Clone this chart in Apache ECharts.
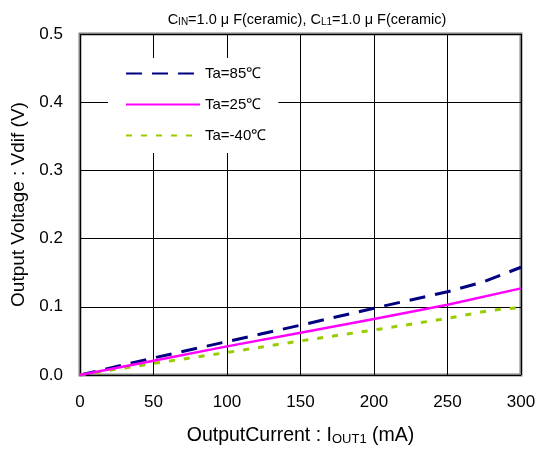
<!DOCTYPE html>
<html>
<head>
<meta charset="utf-8">
<script src="https://cdn.jsdelivr.net/npm/echarts@6/dist/echarts.min.js"></script>
<style>html,body{margin:0;padding:0;background:#fff}#c{width:539px;height:450px}</style>
</head>
<body>
<div id="c"></div>
<script>
var xTicks = [0, 50, 100, 150, 200, 250, 300];
var yTicks = [0.0, 0.1, 0.2, 0.3, 0.4, 0.5];
var seriesNames = ['Ta=85℃', 'Ta=25℃', 'Ta=-40℃'];
var ta85 = [[0,0],[50,0.025],[100,0.049],[150,0.073],[200,0.098],[250,0.122],[275,0.137],[300,0.158]];
var ta25 = [[0,0],[50,0.021],[100,0.042],[150,0.062],[200,0.082],[250,0.103],[300,0.127]];
var taM40 = [[0,0],[50,0.017],[100,0.033],[150,0.050],[200,0.066],[250,0.083],[280,0.095],[300,0.099]];

var FONT = '"Liberation Sans", Arial, sans-serif';
var chart = echarts.init(document.getElementById('c'), null, {renderer: 'canvas'});
chart.setOption({
  animation: false,
  backgroundColor: '#fff',
  textStyle: {fontFamily: FONT, color: '#000'},
  title: {
    text: '{n|C}{s|IN}{n|=1.0 μ F(ceramic), C}{s|L1}{n|=1.0 μ F(ceramic)}',
    left: 302, top: 4, textAlign: 'center',
    textStyle: {
      fontWeight: 'normal',
      rich: {
        n: {fontSize: 14.5, fontWeight: 'normal', fontFamily: FONT, color: '#000', verticalAlign: 'bottom', lineHeight: 18},
        s: {fontSize: 10, fontWeight: 'normal', fontFamily: FONT, color: '#000', verticalAlign: 'bottom', lineHeight: 15}
      }
    }
  },
  legend: {
    orient: 'vertical',
    left: 108, top: 58,
    padding: [8, 12, 10, 17],
    backgroundColor: '#fff',
    itemWidth: 74, itemHeight: 14, itemGap: 16,
    itemStyle: {opacity: 0},
    textStyle: {fontSize: 15, fontFamily: FONT, color: '#000', padding: [0,0,0,0]},
    data: seriesNames
  },
  grid: {left: 80, right: 18, top: 34, bottom: 75, show: true, borderColor: '#7f7f7f', borderWidth: 3,
         containLabel: false, outerBoundsMode: 'none'},
  xAxis: {
    type: 'value', min: 0, max: 300, interval: 50,
    name: '{n|OutputCurrent : I}{s|OUT1}{n| (mA)}',
    nameLocation: 'middle', nameGap: 49,
    nameTextStyle: {
      rich: {
        n: {fontSize: 19.5, fontFamily: FONT, color: '#000', verticalAlign: 'bottom', lineHeight: 22},
        s: {fontSize: 13, fontFamily: FONT, color: '#000', verticalAlign: 'bottom', lineHeight: 17}
      }
    },
    axisLine: {show: false}, axisTick: {show: false},
    axisLabel: {fontSize: 17, color: '#000', margin: 19, fontFamily: FONT},
    splitLine: {show: true, lineStyle: {color: '#000', width: 1}}
  },
  yAxis: {
    type: 'value', min: 0, max: 0.5, interval: 0.1,
    name: 'Output Voltage : Vdif (V)',
    nameLocation: 'middle', nameGap: 52,
    nameTextStyle: {fontSize: 19, fontFamily: FONT, color: '#000'},
    axisLine: {show: false}, axisTick: {show: false},
    axisLabel: {fontSize: 17, color: '#000', margin: 17, fontFamily: FONT,
      formatter: function (v) { return v.toFixed(1); }},
    splitLine: {show: true, lineStyle: {color: '#000', width: 1}}
  },
  series: [
    {name: seriesNames[0], type: 'line', data: ta85, symbol: 'none', z: 3,
     lineStyle: {color: '#000080', width: 3, type: [16, 10]}, itemStyle: {color: '#000080'}},
    {name: seriesNames[1], type: 'line', data: ta25, symbol: 'none', z: 4,
     lineStyle: {color: '#ff00ff', width: 2.5, type: 'solid'}, itemStyle: {color: '#ff00ff'}},
    {name: seriesNames[2], type: 'line', data: taM40, symbol: 'none', z: 3,
     lineStyle: {color: '#99cc00', width: 3, type: [6, 9]}, itemStyle: {color: '#99cc00'}}
  ]
});
</script>
</body>
</html>
